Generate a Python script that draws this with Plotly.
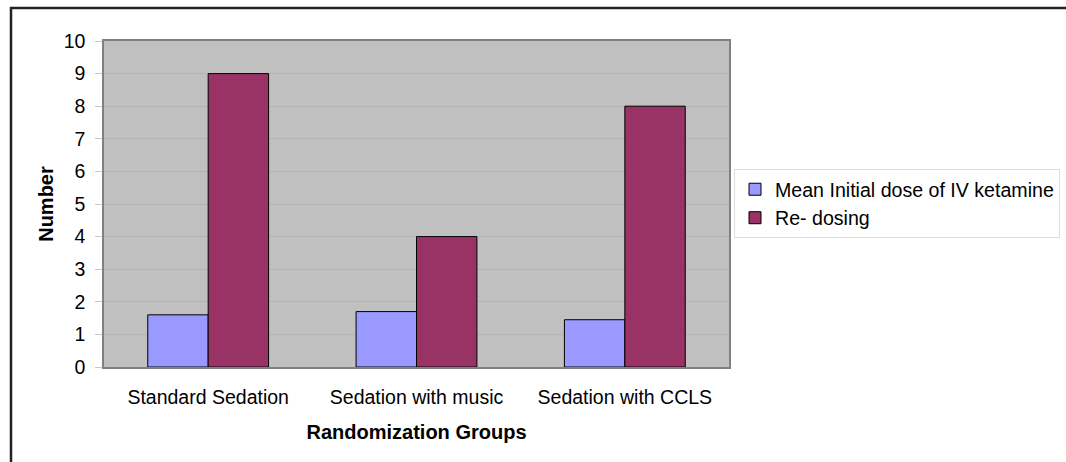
import plotly.graph_objects as go

categories = ["Standard Sedation", "Sedation with music", "Sedation with CCLS"]
mean_initial_dose = [1.6, 1.7, 1.45]
re_dosing = [9, 4, 8]
series_names = ["Mean Initial dose of IV ketamine", "Re- dosing"]
y_ticks = list(range(0, 11))

W, H = 1066, 462
L, R, T, B = 104, 337, 41, 95
pw, ph = W - L - R, H - T - B

def px_x(px):
    return (px - L) / pw

def px_y(py):
    return (H - B - py) / ph

FONT = "Liberation Sans, Arial, sans-serif"

fig = go.Figure()
fig.add_trace(go.Bar(x=categories, y=mean_initial_dose, name=series_names[0],
                     marker=dict(color="#9999FF", line=dict(color="#000000", width=1)),
                     legendgroup="a"))
fig.add_trace(go.Bar(x=categories, y=re_dosing, name=series_names[1],
                     marker=dict(color="#993366", line=dict(color="#000000", width=1)),
                     legendgroup="b"))

fig.update_layout(
    width=W, height=H,
    margin=dict(l=L, r=R, t=T, b=B, pad=0, autoexpand=False),
    paper_bgcolor="white",
    plot_bgcolor="#C0C0C0",
    barmode="group",
    bargap=0.42,
    bargroupgap=0,
    font=dict(family=FONT, size=20, color="#000000"),
    xaxis=dict(
        showgrid=False, showline=True, linecolor="#808080", linewidth=1.5, mirror=True,
        ticks="", tickfont=dict(size=19.5), ticklabelstandoff=12,
        title=dict(text="<b>Randomization Groups</b>", font=dict(size=20), standoff=18),
    ),
    yaxis=dict(
        range=[0, 10], tickvals=y_ticks, showgrid=True, gridcolor="#B4B4B4", gridwidth=1,
        showline=True, linecolor="#808080", linewidth=1.5, mirror=True,
        ticks="outside", ticklen=7, tickcolor="#C8C8C8", zeroline=False,
        tickfont=dict(size=19.5), ticklabelstandoff=6,
        title=dict(text="<b>Number</b>", font=dict(size=20), standoff=5),
    ),
    legend=dict(
        x=px_x(734), y=px_y(169), xanchor="left", yanchor="top",
        bordercolor="#DDDDDD", borderwidth=1, bgcolor="white",
        font=dict(size=19.6), tracegroupgap=10, traceorder="normal",
    ),
    showlegend=True,
    shapes=[
        dict(type="line", xref="paper", yref="paper", x0=px_x(10), x1=px_x(1070),
             y0=px_y(8), y1=px_y(8), line=dict(color="#222222", width=2.5)),
        dict(type="line", xref="paper", yref="paper", x0=px_x(11), x1=px_x(11),
             y0=px_y(7), y1=px_y(470), line=dict(color="#222222", width=2.5)),
    ],
)

fig.write_html("out.html", config={"displayModeBar": False},
               post_script="document.body.style.margin='0';")
